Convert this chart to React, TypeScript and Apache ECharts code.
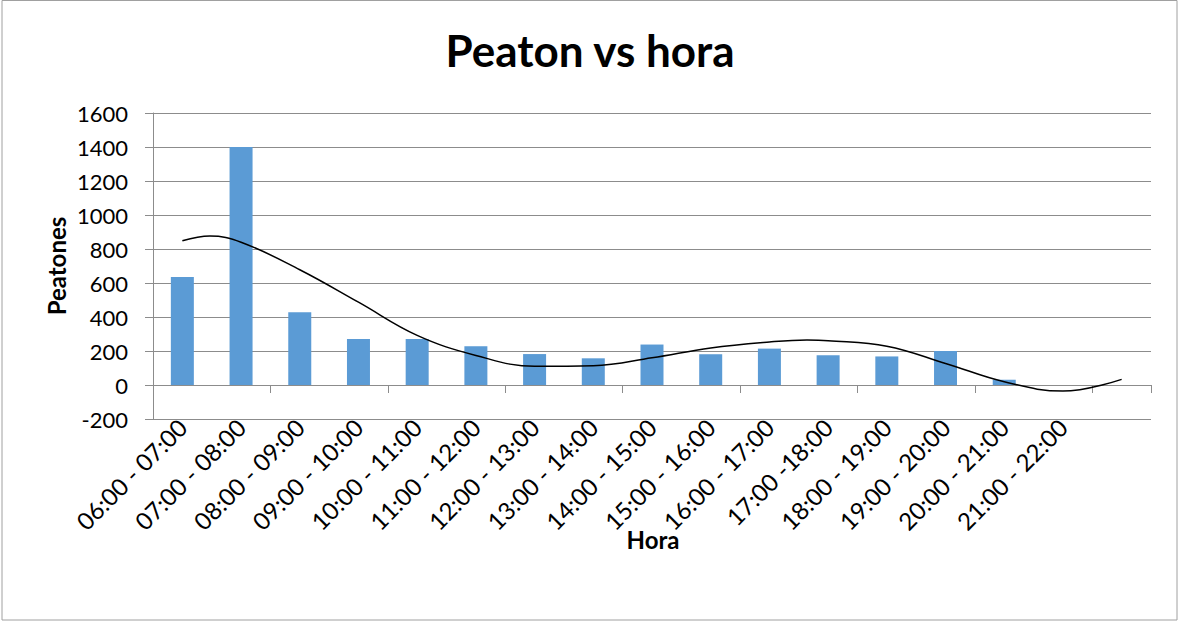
import React, { useEffect, useRef } from "react";
import * as echarts from "echarts";

const categories = [
  "06:00 - 07:00", "07:00 - 08:00", "08:00 - 09:00", "09:00 - 10:00",
  "10:00 - 11:00", "11:00 - 12:00", "12:00 - 13:00", "13:00 - 14:00",
  "14:00 - 15:00", "15:00 - 16:00", "16:00 - 17:00", "17:00 -18:00",
  "18:00 - 19:00", "19:00 - 20:00", "20:00 - 21:00", "21:00 - 22:00", "",
];
const peatones = [635, 1400, 428, 270, 270, 228, 182, 157, 238, 181, 214, 175, 168, 200, 31, null, null];

// Polynomial trendline (x in category units, 0.5 = first category centre)
const trendX = [0.5, 0.97, 1.5, 2.5, 3.5, 4.5, 5.5, 6.5, 7.5, 8.5, 9.5, 10.5, 11.14, 11.5, 12.5, 13.5, 14.5, 15.5, 16.5];
const trendY = [848, 876, 840, 678, 487, 292, 174, 110, 113, 160, 218, 253, 265, 261, 228, 127, 19, -36, 33];

const yMin = -200;
const yMax = 1600;
const yInterval = 200;

const FONT = "Lato, 'Open Sans', sans-serif";
const GRID_COLOR = "#8c8c8c";

export default function App() {
  const ref = useRef<HTMLDivElement>(null);
  useEffect(() => {
    if (!ref.current) return;
    const chart = echarts.init(ref.current, undefined, { renderer: "svg" });
    chart.setOption({
      animation: false,
      backgroundColor: "#ffffff",
      textStyle: { fontFamily: FONT, color: "#000" },
      title: {
        text: "Peaton vs hora",
        left: "center",
        top: 23,
        textStyle: { fontFamily: FONT, fontSize: 44, fontWeight: "bold", color: "#000" },
      },
      graphic: [
        {
          type: "rect",
          shape: { x: 2, y: 0.5, width: 1175, height: 619.5 },
          style: { fill: "none", stroke: "#a0a0a0", lineWidth: 1 },
          silent: true,
        },
        {
          type: "text",
          x: 653,
          y: 539,
          style: {
            text: "Hora",
            fontFamily: FONT,
            fontSize: 24,
            fontWeight: "bold",
            fill: "#000",
            textAlign: "center",
            textVerticalAlign: "middle",
          },
          silent: true,
        },
      ],
      grid: { left: 153, right: 29, top: 113, bottom: 203, containLabel: false },
      xAxis: [
        {
          type: "category",
          data: categories,
          position: "bottom",
          axisLine: { show: false, onZero: false },
          axisTick: { show: false },
          axisLabel: {
            rotate: 45,
            interval: 0,
            fontSize: 24,
            color: "#000",
            fontFamily: FONT,
            margin: 4,
          },
          splitLine: { show: false },
        },
        {
          type: "category",
          data: categories,
          position: "bottom",
          axisLine: { show: true, onZero: true, lineStyle: { color: GRID_COLOR, width: 1 } },
          axisTick: { show: true, length: 8, lineStyle: { color: GRID_COLOR } },
          axisLabel: { show: false },
          splitLine: { show: false },
        },
        {
          type: "value",
          min: 0,
          max: categories.length,
          show: false,
          splitLine: { show: false },
        },
      ],
      yAxis: {
        type: "value",
        min: yMin,
        max: yMax,
        interval: yInterval,
        axisLine: { show: true, onZero: false, lineStyle: { color: GRID_COLOR, width: 1 } },
        axisTick: { show: true, length: 8, lineStyle: { color: GRID_COLOR } },
        splitLine: { show: true, lineStyle: { color: GRID_COLOR, width: 1 } },
        axisLabel: {
          fontSize: 22,
          color: "#000",
          fontFamily: FONT,
          margin: 25,
          formatter: (v: number) => String(v),
        },
        name: "Peatones",
        nameLocation: "middle",
        nameRotate: 90,
        nameGap: 85,
        nameMoveOverlap: false,
        nameTextStyle: { fontSize: 24, fontWeight: "bold", color: "#000", fontFamily: FONT },
      },
      series: [
        {
          type: "bar",
          xAxisIndex: 0,
          yAxisIndex: 0,
          data: peatones,
          barWidth: 23,
          itemStyle: { color: "#5B9BD5" },
        },
        {
          type: "line",
          xAxisIndex: 2,
          yAxisIndex: 0,
          data: trendX.map((x, i) => [x, trendY[i]]),
          showSymbol: false,
          smooth: 0.4,
          lineStyle: { color: "#000", width: 1.5 },
          z: 5,
        },
      ],
    });
    return () => chart.dispose();
  }, []);
  return (
    <div
      ref={ref}
      style={{ position: "absolute", left: 0, top: 0, width: 1180, height: 622 }}
    />
  );
}
